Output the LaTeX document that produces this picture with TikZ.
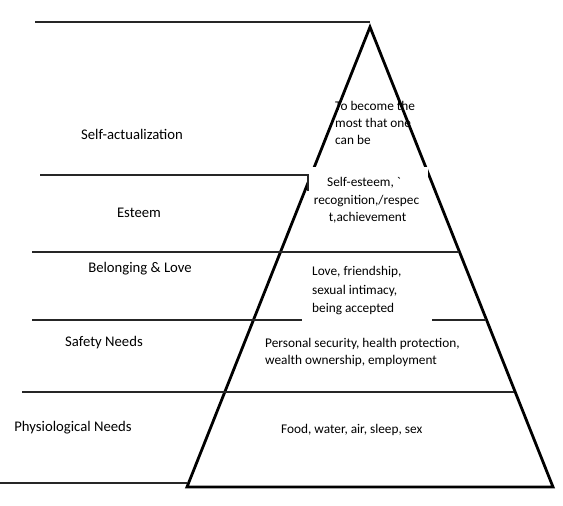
\documentclass[tikz,border=0pt]{standalone}
\usepackage{fontspec}
\setmainfont{Carlito}
\begin{document}
\begin{tikzpicture}[x=1pt,y=-1pt,
  lvl/.style={line width=1.3pt,black!85},
  tri/.style={line width=2.8pt,line join=miter},
  lab/.style={font=\fontsize{14.7}{17}\selectfont,anchor=base,inner sep=0pt},
  rt/.style={font=\fontsize{13.3}{16}\selectfont,anchor=base west,inner sep=0pt},
  rtc/.style={font=\fontsize{13.3}{16}\selectfont,anchor=base,inner sep=0pt}]
\useasboundingbox (0,0) rectangle (563,506);
% triangle
\coordinate (apex) at (370,27);
\coordinate (bl) at (187,487);
\coordinate (br) at (553,487);
\draw[tri] (apex) -- (br) -- (bl) -- cycle;
% white text box of the esteem layer, covering the triangle edges
\coordinate (wb1) at (308.5,167);
\coordinate (wb2) at (427.5,235);
\fill[white] (wb1) rectangle (wb2);
% level lines
\coordinate (l1a) at (35,22);  \coordinate (l1b) at (370,22);
\coordinate (l2a) at (40,175); \coordinate (l2b) at (308,175); \coordinate (l2c) at (308,191);
\coordinate (l3a) at (32,252); \coordinate (l3b) at (459,252);
\coordinate (l4a) at (32,320); \coordinate (l4b) at (302,320);
\coordinate (l4c) at (432,320); \coordinate (l4d) at (486,320);
\coordinate (l5a) at (22,392); \coordinate (l5b) at (514,392);
\coordinate (l6a) at (0,483);  \coordinate (l6b) at (187,483);
\draw[lvl] (l1a) -- (l1b);
\draw[lvl] (l2a) -- (l2b) -- (l2c);
\draw[lvl] (l3a) -- (l3b);
\draw[lvl] (l4a) -- (l4b);
\draw[lvl] (l4c) -- (l4d);
\draw[lvl] (l5a) -- (l5b);
\draw[lvl] (l6a) -- (l6b);
% left labels
\node[lab] (t1) at (132,139) {Self-actualization};
\node[lab] (t2) at (139,217) {Esteem};
\node[lab] (t3) at (140,272) {Belonging \& Love};
\node[lab] (t4) at (104,346) {Safety Needs};
\node[lab] (t5) at (73,431.5) {Physiological Needs};
% right texts
\node[rt] (a1) at (335,110) {To become the};
\node[rt] (a2) at (335,127.5) {most that one};
\node[rt] (a3) at (335,144.5) {can be};
\node[rtc] (b1) at (364,186) {Self-esteem, \textasciigrave};
\node[rtc] (b2) at (366.5,204) {recognition,/respec};
\node[rtc] (b3) at (367.5,221) {t,achievement};
\node[rt] (c1) at (312,275) {Love, friendship,};
\node[rt] (c2) at (312,294) {sexual intimacy,};
\node[rt] (c3) at (312,312.5) {being accepted};
\node[rt] (d1) at (265,347.5) {Personal security, health protection,};
\node[rt] (d2) at (265,364) {wealth ownership, employment};
\node[rt] (e1) at (281,433.5) {Food, water, air, sleep, sex};
\end{tikzpicture}
\end{document}
